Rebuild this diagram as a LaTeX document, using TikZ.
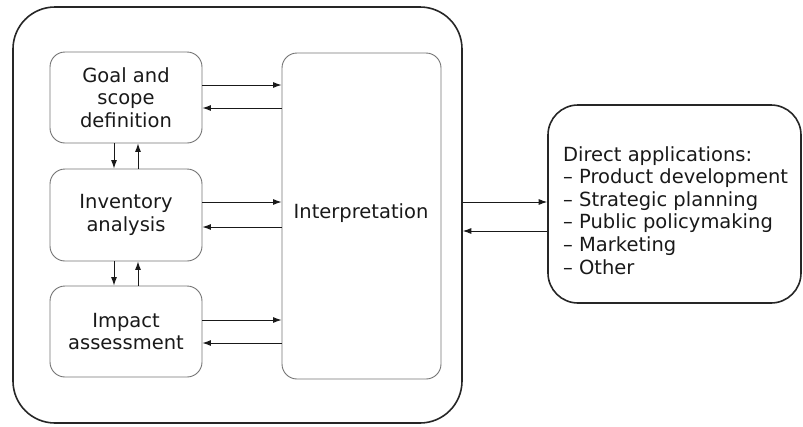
\documentclass[tikz,border=0pt]{standalone}
\usepackage{fontspec}
\setmainfont{DejaVu Sans}
\usetikzlibrary{arrows.meta}
\begin{document}
\begin{tikzpicture}[x=1pt,y=-1pt,
  every node/.style={font=\fontsize{19.5pt}{22.6pt}\selectfont, text=black!90},
  inbox/.style={draw=black!55, line width=0.9pt, rounded corners=15pt, align=center, inner sep=0pt},
  bigbox/.style={draw=black!85, line width=1.6pt, inner sep=0pt},
  arr/.style={draw=black!90, line width=0.9pt, -{Latex[length=8.5pt,width=6pt]}}]
\useasboundingbox (0,0) rectangle (803,426);
\node[bigbox, rounded corners=42pt, minimum width=449pt, minimum height=416pt] (outer) at (237.5,215) {};
\node[inbox, minimum width=152pt, minimum height=91pt] (goal) at (126,97.5) {Goal and\\scope\\definition};
\node[inbox, minimum width=152pt, minimum height=92pt] (inv) at (126,215) {Inventory\\analysis};
\node[inbox, minimum width=152pt, minimum height=91pt] (imp) at (126,331.5) {Impact\\assessment};
\node[inbox, minimum width=159pt, minimum height=326pt] (interp) at (361.5,216) {};
\node (interptext) at (361,213) {Interpretation};
\node[bigbox, rounded corners=30pt, minimum width=253pt, minimum height=198pt] (right) at (674.5,204) {};
\node[anchor=north west, align=left, inner sep=0pt] (apps) at (563,146) {Direct applications:\\– Product development\\– Strategic planning\\– Public policymaking\\– Marketing\\– Other};
% horizontal arrows
\draw[arr] ([yshift=12.5pt]goal.east) -- ([yshift=12.5pt]goal.east -| interp.west);
\draw[arr] ([yshift=-10.5pt]goal.east -| interp.west) -- ([yshift=-10.5pt]goal.east);
\draw[arr] ([yshift=13pt]inv.east) -- ([yshift=13pt]inv.east -| interp.west);
\draw[arr] ([yshift=-12pt]inv.east -| interp.west) -- ([yshift=-12pt]inv.east);
\draw[arr] ([yshift=11.5pt]imp.east) -- ([yshift=11.5pt]imp.east -| interp.west);
\draw[arr] ([yshift=-11.5pt]imp.east -| interp.west) -- ([yshift=-11.5pt]imp.east);
% vertical arrows
\draw[arr] ([xshift=-12pt]goal.south) -- ([xshift=-12pt]goal.south |- inv.north);
\draw[arr] ([xshift=12pt]goal.south |- inv.north) -- ([xshift=12pt]goal.south);
\draw[arr] ([xshift=-12pt]inv.south) -- ([xshift=-12pt]inv.south |- imp.north);
\draw[arr] ([xshift=12pt]inv.south |- imp.north) -- ([xshift=12pt]inv.south);
% outer <-> applications
\draw[arr] ([yshift=13pt]outer.east) -- ([yshift=13pt]outer.east -| right.west);
\draw[arr] ([yshift=-16pt]outer.east -| right.west) -- ([yshift=-16pt]outer.east);
\end{tikzpicture}
\end{document}
